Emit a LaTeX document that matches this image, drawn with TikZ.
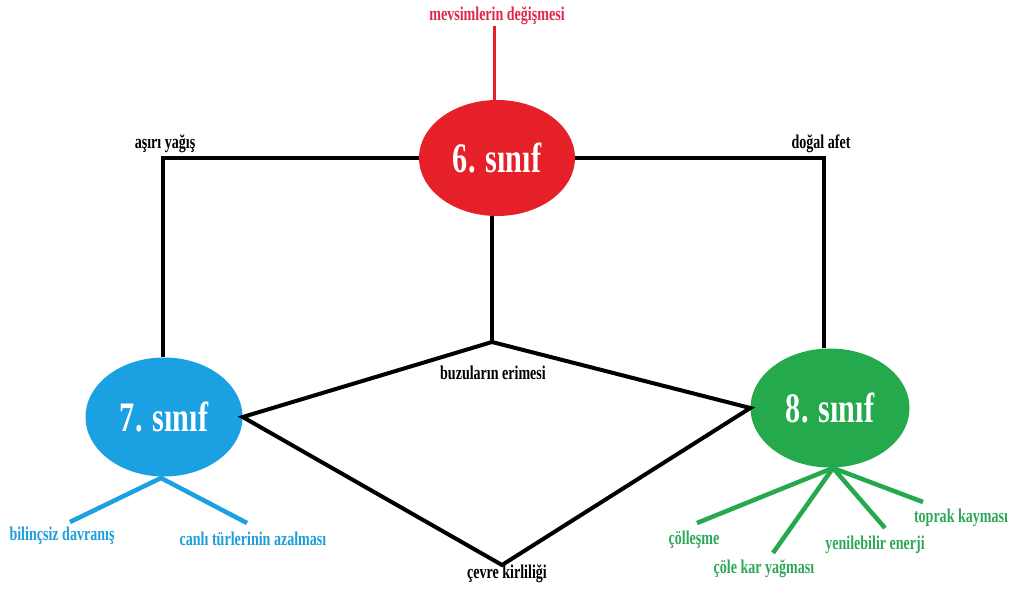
\documentclass[tikz,border=0pt]{standalone}
\usepackage{fontspec}
\setmainfont{Liberation Serif}[FakeStretch=0.72]
\usetikzlibrary{shapes.geometric,calc}
\definecolor{cred}{RGB}{230,32,40}
\definecolor{cblue}{RGB}{27,160,225}
\definecolor{cgreen}{RGB}{36,170,76}
\definecolor{tred}{RGB}{222,40,72}
\definecolor{tblue}{RGB}{30,158,220}
\definecolor{tgreen}{RGB}{46,168,88}
\tikzset{
  klass/.style={ellipse, inner sep=0pt, text=white, font=\fontsize{42}{42}\selectfont\bfseries},
  lbl/.style={inner sep=1pt, font=\fontsize{19.5}{19.5}\selectfont\bfseries},
  blk/.style={line width=4pt, black, line join=miter},
  redl/.style={line width=3pt, cred},
  bluel/.style={line width=4.5pt, cblue},
  greenl/.style={line width=4.5pt, cgreen},
}
\begin{document}
\begin{tikzpicture}[x=1pt,y=-1pt]
\useasboundingbox (0,0) rectangle (1010,595);
% class ellipses
\node[klass, fill=cred, minimum width=156pt, minimum height=116pt] (e6) at (497,158) {6. sınıf};
\node[klass, fill=cblue, minimum width=157pt, minimum height=119pt] (e7) at (164,417) {7. sınıf};
\node[klass, fill=cgreen, minimum width=159pt, minimum height=119pt] (e8) at (830,408) {8. sınıf};
% labels
\node[lbl, text=tred] (mev) at (497,16) {mevsimlerin değişmesi};
\node[lbl, text=black] (asiri) at (165,144) {aşırı yağış};
\node[lbl, text=black] (dogal) at (821,144) {doğal afet};
\node[lbl, text=black] (buz) at (493,373) {buzuların erimesi};
\node[lbl, text=black] (cevre) at (507,574) {çevre kirliliği};
\node[lbl, text=tblue] (bil) at (62,536) {bilinçsiz davranış};
\node[lbl, text=tblue] (canli) at (253,539) {canlı türlerinin azalması};
\node[lbl, text=tgreen] (col) at (694,540) {çölleşme};
\node[lbl, text=tgreen] (kar) at (764,569) {çöle kar yağması};
\node[lbl, text=tgreen] (yen) at (875,545) {yenilebilir enerji};
\node[lbl, text=tgreen] (top) at (961,518) {toprak kayması};
% coordinates
\coordinate (cl) at (163,160);
\coordinate (cr) at (824,160);
\coordinate (apex) at (492,342);
\coordinate (bot) at (502,565);
\coordinate (bj) at (161,478);
\coordinate (b1) at (70,522);
\coordinate (b2) at (247,523);
\coordinate (gj) at (833,468);
\coordinate (g1) at (697,523);
\coordinate (g2) at (773,553);
\coordinate (g3) at (885,528);
\coordinate (g4) at (923,502);
\coordinate (rt) at (494,100);
% connectors
\draw[redl] (rt) -- (rt |- mev.south);
\draw[blk] (e6.west) -- (e6.west -| cl) -- (cl |- e7.north);
\draw[blk] (e6.east) -- (e6.east -| cr) -- (cr |- e8.north);
\draw[blk] (apex |- e6.south) -- (apex);
\draw[blk] (e7.east) -- (apex) -- (e8.west) -- (bot) -- cycle;
\draw[bluel] (b1) -- (bj) -- (b2);
\draw[greenl] (gj) -- (g1);
\draw[greenl] (gj) -- (g2);
\draw[greenl] (gj) -- (g3);
\draw[greenl] (gj) -- (g4);
\end{tikzpicture}
\end{document}
